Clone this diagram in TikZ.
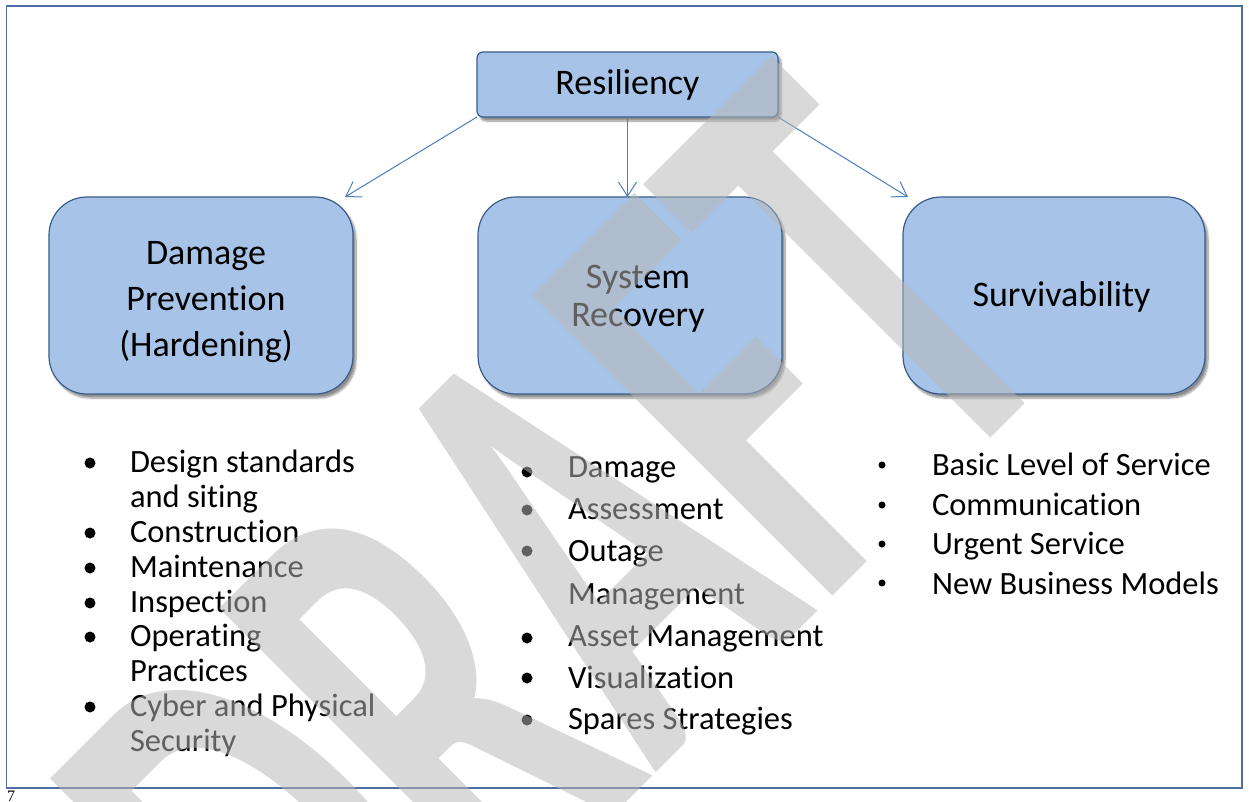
\documentclass[tikz,border=0pt]{standalone}
\usepackage{fontspec}
\setmainfont[Ligatures=NoCommon]{Carlito}
\newfontfamily\dgtimes{Liberation Serif}
\usetikzlibrary{arrows.meta,shadows.blur}
\definecolor{boxfill}{RGB}{167,196,232}
\definecolor{boxline}{RGB}{56,93,138}
\definecolor{arrowc}{RGB}{74,126,187}
\definecolor{framec}{RGB}{79,110,160}
\definecolor{wmark}{RGB}{183,183,183}
\newcommand\dgboxfont{\fontsize{36bp}{46bp}\selectfont}
\newcommand\dgboxfontb{\fontsize{36bp}{38bp}\selectfont}
\newcommand\dglistfont{\fontsize{32.5bp}{35bp}\selectfont}
\begin{document}
\begin{tikzpicture}[x=1bp,y=-1bp,
  every node/.style={inner sep=0pt, outer sep=0pt},
  bigbox/.style={draw=boxline, line width=1.2bp, fill=boxfill, rounded corners=38bp,
    minimum width=304bp, minimum height=197bp,
    blur shadow={shadow xshift=3bp, shadow yshift=-4bp, shadow blur steps=8, shadow opacity=45}},
  topbox/.style={bigbox, rounded corners=6bp, minimum width=301bp, minimum height=65bp, font=\dgboxfont},
  boxlabel/.style={font=\dgboxfont, align=center},
  listitem/.style={anchor=base west, font=\dglistfont},
  bigdot/.style={circle, fill=black, minimum size=11bp},
  smalldot/.style={circle, fill=black, minimum size=7bp},
  link/.style={draw=arrowc, line width=1bp, -{Straight Barb[length=14bp, width=18bp, line width=1bp]}},
  wm/.style={rotate=45, text=wmark, opacity=0.525, font=\fontsize{655bp}{655bp}\selectfont\bfseries}
]
\useasboundingbox (0,0) rectangle (1249,802);
% page frame
\draw[framec, line width=1.6bp] (6.5,6) rectangle (1242,788);
\node[anchor=north west, font=\dgtimes\fontsize{16bp}{16bp}\selectfont] (pg) at (7,791) {7};

% boxes
\node[topbox] (res) at (627.5,84.5) {Resiliency};
\node[bigbox] (dp) at (201,295.5) {};
\node[bigbox] (sr) at (630,295.5) {};
\node[bigbox, minimum width=302bp] (sv) at (1054,295.5) {};
\node[boxlabel] (dpt) at ([xshift=5bp, yshift=-7bp]dp.center) {Damage\\Prevention\\(Hardening)};
\node[boxlabel, font=\dgboxfontb] (srt) at ([xshift=8bp, yshift=-3bp]sr.center) {System\\Recovery};
\node[boxlabel] (svt) at ([xshift=7.5bp, yshift=-1.5bp]sv.center) {Survivability};

% connectors
\draw[link] (res.south west) -- ([xshift=-8bp]dp.north east);
\draw[link] (res.south) -- (res.south |- sr.north);
\draw[link] (res.south east) -- ([xshift=5bp]sv.north west);

% left list
\node[bigdot] (bl1) at (90,463) {};
\node[listitem] (l1) at (130,472) {Design standards};
\node[listitem] (l2) at (130,507) {and siting};
\node[bigdot] (bl2) at (90,533) {};
\node[listitem] (l3) at (130,542) {Construction};
\node[bigdot] (bl3) at (90,568) {};
\node[listitem] (l4) at (130,577) {Maintenance};
\node[bigdot] (bl4) at (90,603) {};
\node[listitem] (l5) at (130,612) {Inspection};
\node[bigdot] (bl5) at (90,637) {};
\node[listitem] (l6) at (130,646) {Operating};
\node[listitem] (l7) at (130,681) {Practices};
\node[bigdot] (bl6) at (90,707) {};
\node[listitem] (l8) at (130,716) {Cyber and Physical};
\node[listitem] (l9) at (130,751) {Security};

% middle list
\node[bigdot] (bm1) at (527,472) {};
\node[listitem] (m1) at (568,477) {Damage};
\node[bigdot] (bm2) at (527,510) {};
\node[listitem] (m2) at (568,519) {Assessment};
\node[bigdot] (bm3) at (527,551) {};
\node[listitem] (m3) at (568,561) {Outage};
\node[listitem] (m4) at (568,604) {Management};
\node[bigdot] (bm4) at (527,638) {};
\node[listitem] (m5) at (568,646) {Asset Management};
\node[bigdot] (bm5) at (527,678) {};
\node[listitem] (m6) at (568,688) {Visualization};
\node[bigdot] (bm6) at (527,720) {};
\node[listitem] (m7) at (568,729) {Spares Strategies};

% right list
\node[smalldot] (br1) at (882,465) {};
\node[listitem] (r1) at (932,475) {Basic Level of Service};
\node[smalldot] (br2) at (882,505) {};
\node[listitem] (r2) at (932,515) {Communication};
\node[smalldot] (br3) at (882,544) {};
\node[listitem] (r3) at (932,554) {Urgent Service};
\node[smalldot] (br4) at (882,583) {};
\node[listitem] (r4) at (932,594) {New Business Models};

% watermark
\node[wm] (draft) at (555,574) {\scalebox{0.58}[1]{DRAFT}};
\end{tikzpicture}
\end{document}
